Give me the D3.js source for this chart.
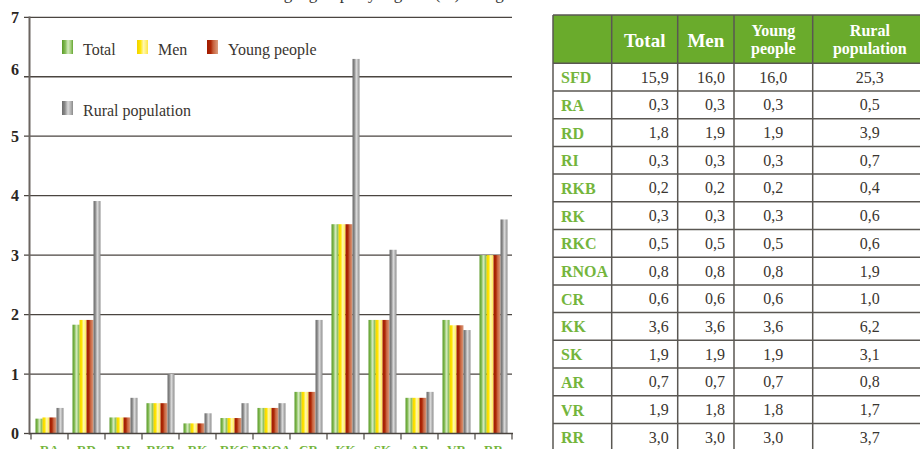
<!DOCTYPE html>
<html><head><meta charset="utf-8">
<script src="https://cdn.jsdelivr.net/npm/d3@7"></script>
<style>
html,body{margin:0;padding:0;background:#fff;}
svg{display:block;}
</style></head>
<body>
<svg id="c" width="920" height="449"></svg>
<script>
// ---- data ----
const categories = ["RA","RD","RI","RKB","RK","RKC","RNOA","CR","KK","SK","AR","VR","RR"];
const seriesNames = ["Total","Men","Young people","Rural population"];
const totalVals = [0.25,1.83,0.27,0.51,0.17,0.26,0.43,0.70,3.52,1.91,0.60,1.91,3.00];
const menVals   = [0.27,1.91,0.27,0.51,0.17,0.26,0.43,0.70,3.52,1.91,0.60,1.82,3.00];
const youngVals = [0.27,1.91,0.27,0.51,0.17,0.26,0.43,0.70,3.52,1.91,0.60,1.82,3.00];
const ruralVals = [0.43,3.91,0.60,1.00,0.34,0.51,0.51,1.91,6.30,3.09,0.70,1.74,3.60];
const yTicks = [0,1,2,3,4,5,6,7];
const titleText = "Share of target groups by regions (%) in region";

const tableRows = ["SFD","RA","RD","RI","RKB","RK","RKC","RNOA","CR","KK","SK","AR","VR","RR"];
const tableHeaders = [["Total"],["Men"],["Young","people"],["Rural","population"]];
const tableTotal = [15.9,0.3,1.8,0.3,0.2,0.3,0.5,0.8,0.6,3.6,1.9,0.7,1.9,3.0];
const tableMen   = [16.0,0.3,1.9,0.3,0.2,0.3,0.5,0.8,0.6,3.6,1.9,0.7,1.8,3.0];
const tableYoung = [16.0,0.3,1.9,0.3,0.2,0.3,0.5,0.8,0.6,3.6,1.9,0.7,1.8,3.0];
const tableRural = [25.3,0.5,3.9,0.7,0.4,0.6,0.6,1.9,1.0,6.2,3.1,0.8,1.7,3.7];

// ---- setup ----
const svg = d3.select("#c");
const FONT = "'Liberation Serif', 'Times New Roman', serif";
const seriesVals = [totalVals, menVals, youngVals, ruralVals];

const defs = svg.append("defs");
const gradStops = [
  [[0,"#5a9a28"],[0.3,"#86bd58"],[0.55,"#d4eabf"],[0.8,"#a4cf7c"],[1,"#65a632"]],
  [[0,"#f0d200"],[0.3,"#ffe500"],[0.6,"#fff8b4"],[1,"#ffe640"]],
  [[0,"#a01a00"],[0.35,"#ad2806"],[0.55,"#c65e3a"],[1,"#dc9e7e"]],
  [[0,"#6c6c6c"],[0.25,"#888"],[0.55,"#dadada"],[0.8,"#b2b2b2"],[1,"#8a8a8a"]]
];
gradStops.forEach((stops,i)=>{
  const g = defs.append("linearGradient").attr("id","g"+i).attr("x1","0").attr("x2","1").attr("y1","0").attr("y2","0");
  stops.forEach(s=>g.append("stop").attr("offset",s[0]).attr("stop-color",s[1]));
});

// title (mostly clipped at top)
svg.append("text").attr("x",365).attr("y",-1).attr("text-anchor","middle")
  .attr("font-family",FONT).attr("font-size",17).attr("fill","#333").text(titleText);

const y = d3.scaleLinear().domain([0,7]).range([433.5,17.3]);
const x0 = d3.scaleBand().domain(categories).range([31,512]).paddingInner(0.243).paddingOuter(0.1215);
const x1 = d3.scaleBand().domain(seriesNames).range([0,x0.bandwidth()]);

// gridlines + y ticks
const gridG = svg.append("g");
gridG.selectAll("line").data(yTicks.filter(d=>d>0)).join("line")
  .attr("x1",24).attr("x2",512)
  .attr("y1",d=>y(d)).attr("y2",d=>y(d))
  .attr("stroke","#4a4540").attr("stroke-width",1.3);
svg.append("line").attr("x1",24).attr("x2",30).attr("y1",y(0)).attr("y2",y(0)).attr("stroke","#4a4540").attr("stroke-width",1.3);

svg.append("g").selectAll("text").data(yTicks).join("text")
  .attr("x",19).attr("y",d=>y(d) - (d===6?7:0))
  .attr("text-anchor","end").attr("dominant-baseline","central")
  .attr("font-family",FONT).attr("font-weight","bold").attr("font-size",16).attr("fill","#2b2622")
  .text(d=>d);

// bars
const groups = svg.append("g").selectAll("g").data(categories).join("g")
  .attr("transform",d=>`translate(${x0(d)},0)`);
groups.selectAll("rect").data((c,ci)=>seriesNames.map((s,si)=>({s,si,v:seriesVals[si][ci]}))).join("rect")
  .attr("x",d=>x1(d.s)).attr("width",x1.bandwidth())
  .attr("y",d=>y(d.v)).attr("height",d=>y(0)-y(d.v))
  .attr("fill",d=>`url(#g${d.si})`);

// y axis line
svg.append("line").attr("x1",29.5).attr("x2",29.5).attr("y1",16.5).attr("y2",434.5)
  .attr("stroke","#6b6560").attr("stroke-width",2);
// x axis baseline
svg.append("line").attr("x1",29).attr("x2",513).attr("y1",y(0)).attr("y2",y(0))
  .attr("stroke","#4a4540").attr("stroke-width",1.6);
// category boundary ticks
const bounds = categories.map(c=>x0(c)-x0.step()*x0.paddingInner()/2).concat([x0(categories[categories.length-1])+x0.bandwidth()+x0.step()*x0.paddingInner()/2]);
svg.append("g").selectAll("line").data(bounds).join("line")
  .attr("x1",d=>d).attr("x2",d=>d).attr("y1",y(0)).attr("y2",y(0)+6)
  .attr("stroke","#4a4540").attr("stroke-width",1.2);
// category labels
svg.append("g").selectAll("text").data(categories).join("text")
  .attr("x",d=>x0(d)+x0.bandwidth()/2).attr("y",454)
  .attr("text-anchor","middle").attr("font-family",FONT).attr("font-weight","bold")
  .attr("font-size",13).attr("fill","#74b53c").text(d=>d);

// legend
const legendPos = [[62,40],[137,40],[207,40],[62,101]];
const lg = svg.append("g").selectAll("g").data(seriesNames).join("g")
  .attr("transform",(d,i)=>`translate(${legendPos[i][0]},${legendPos[i][1]})`);
lg.append("rect").attr("width",11).attr("height",14).attr("fill",(d,i)=>`url(#g${i})`);
lg.append("text").attr("x",21).attr("y",14.5).attr("font-family",FONT).attr("font-size",16)
  .attr("fill","#3a3530").text(d=>d);

// ---- table ----
const colX = [553,611.7,677.7,734,812.7,927];
const headTop = 15, headBot = 63.3, rowH = 27.7;
const tg = svg.append("g");
tg.append("rect").attr("x",colX[0]).attr("y",headTop).attr("width",colX[5]-colX[0]).attr("height",headBot-headTop).attr("fill","#6aab2c");
const tableCols = [tableTotal,tableMen,tableYoung,tableRural];
const fmt = v => d3.format(".1f")(v).replace(".",",");
const rowY = i => headBot + i*rowH;
tableHeaders.forEach((lines,ci)=>{
  const cx = (colX[ci+1]+colX[ci+2])/2;
  if(lines.length===1){
    tg.append("text").attr("text-anchor","middle").attr("font-family",FONT).attr("font-weight","bold")
      .attr("fill","#fff").attr("font-size",19).attr("x",cx).attr("y",46.5).text(lines[0]);
  } else {
    lines.forEach((l,li)=>tg.append("text").attr("text-anchor","middle").attr("font-family",FONT)
      .attr("font-weight","bold").attr("fill","#fff").attr("font-size",16)
      .attr("x",cx).attr("y",li===0?35.5:53.5).text(l));
  }
});
tableRows.forEach((r,ri)=>{
  const cy = rowY(ri)+rowH/2;
  tg.append("text").attr("x",561).attr("y",cy+6).attr("font-family",FONT).attr("font-weight","bold")
    .attr("font-size",16).attr("fill","#74b53c").text(r);
  tableCols.forEach((col,ci)=>{
    const right = ci<2;
    tg.append("text")
      .attr("x", right ? colX[ci+2]-9 : (colX[ci+1]+colX[ci+2])/2)
      .attr("y",cy+5.5).attr("text-anchor", right?"end":"middle")
      .attr("font-family",FONT).attr("font-size",16).attr("fill","#3a3530")
      .text(fmt(col[ri]));
  });
});
const hLines = [headTop, headBot].concat(tableRows.map((r,i)=>rowY(i+1)));
tg.selectAll("line.h").data(hLines).join("line").attr("class","h")
  .attr("x1",colX[0]).attr("x2",colX[5]).attr("y1",d=>d).attr("y2",d=>d)
  .attr("stroke","#5a5752").attr("stroke-width",1.5);
tg.selectAll("line.v").data(colX.slice(0,5)).join("line").attr("class","v")
  .attr("x1",d=>d).attr("x2",d=>d).attr("y1",headTop).attr("y2",rowY(tableRows.length))
  .attr("stroke","#5a5752").attr("stroke-width",1.5);
</script>
</body></html>
